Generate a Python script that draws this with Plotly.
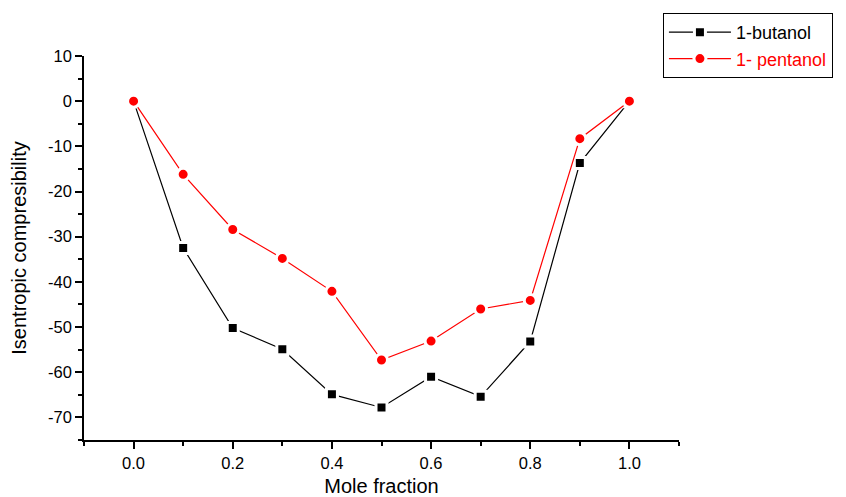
import plotly.graph_objects as go

mole_fraction = [0.0, 0.1, 0.2, 0.3, 0.4, 0.5, 0.6, 0.7, 0.8, 0.9, 1.0]
butanol = [0, -32.5, -50.2, -54.9, -64.9, -67.8, -61.0, -65.4, -53.2, -13.7, 0]
pentanol = [0, -16.2, -28.4, -34.8, -42.1, -57.3, -53.1, -46.0, -44.1, -8.3, 0]
x_ticks = [0.0, 0.2, 0.4, 0.6, 0.8, 1.0]
x_tick_labels = ["0.0", "0.2", "0.4", "0.6", "0.8", "1.0"]
y_ticks = [10, 0, -10, -20, -30, -40, -50, -60, -70]
y_tick_labels = ["10", "0", "-10", "-20", "-30", "-40", "-50", "-60", "-70"]

FONT = "Arial, Liberation Sans, sans-serif"

fig = go.Figure()
fig.add_trace(go.Scatter(
    x=mole_fraction, y=butanol, mode="lines+markers", name="1-butanol",
    line=dict(color="black", width=1.2),
    marker=dict(symbol="square", size=11, color="black", line=dict(color="white", width=3)),
))
fig.add_trace(go.Scatter(
    x=mole_fraction, y=pentanol, mode="lines+markers",
    name="<span style='color:red'>1- pentanol</span>",
    line=dict(color="red", width=1.2),
    marker=dict(symbol="circle", size=12, color="red", line=dict(color="white", width=3)),
))

axis_common = dict(
    showline=True, linecolor="black", linewidth=1.5, mirror=False, automargin=False,
    showgrid=False, zeroline=False, ticks="outside", ticklen=7, tickwidth=1.5,
    tickcolor="black", tickfont=dict(family=FONT, size=16.5, color="black"),
)

fig.update_xaxes(
    range=[-0.1, 1.1], tickvals=x_ticks, ticktext=x_tick_labels,
    minor=dict(dtick=0.1, tick0=-0.1, ticks="outside", ticklen=4, tickwidth=1.5, tickcolor="black"),
    title=dict(text="Mole fraction", font=dict(family=FONT, size=20, color="black"), standoff=10),
    **axis_common,
)
fig.update_yaxes(
    range=[-75, 10], tickvals=y_ticks, ticktext=y_tick_labels,
    minor=dict(dtick=5, tick0=-75, ticks="outside", ticklen=4, tickwidth=1.5, tickcolor="black"),
    title=dict(text="Isentropic compresibility", font=dict(family=FONT, size=20, color="black"), standoff=16),
    **axis_common,
)

fig.update_layout(
    width=846, height=497,
    margin=dict(l=84, r=167, t=56, b=57),
    paper_bgcolor="white", plot_bgcolor="white",
    font=dict(family=FONT, color="black"),
    showlegend=True,
    legend=dict(
        x=0.973, y=1.112, xanchor="left", yanchor="top",
        bordercolor="black", borderwidth=1, bgcolor="white",
        font=dict(family=FONT, size=18, color="black"),
        tracegroupgap=0, itemwidth=62,
    ),
)

fig.write_html("out.html", config={"displayModeBar": False},
               post_script="document.body.style.margin='0';")
